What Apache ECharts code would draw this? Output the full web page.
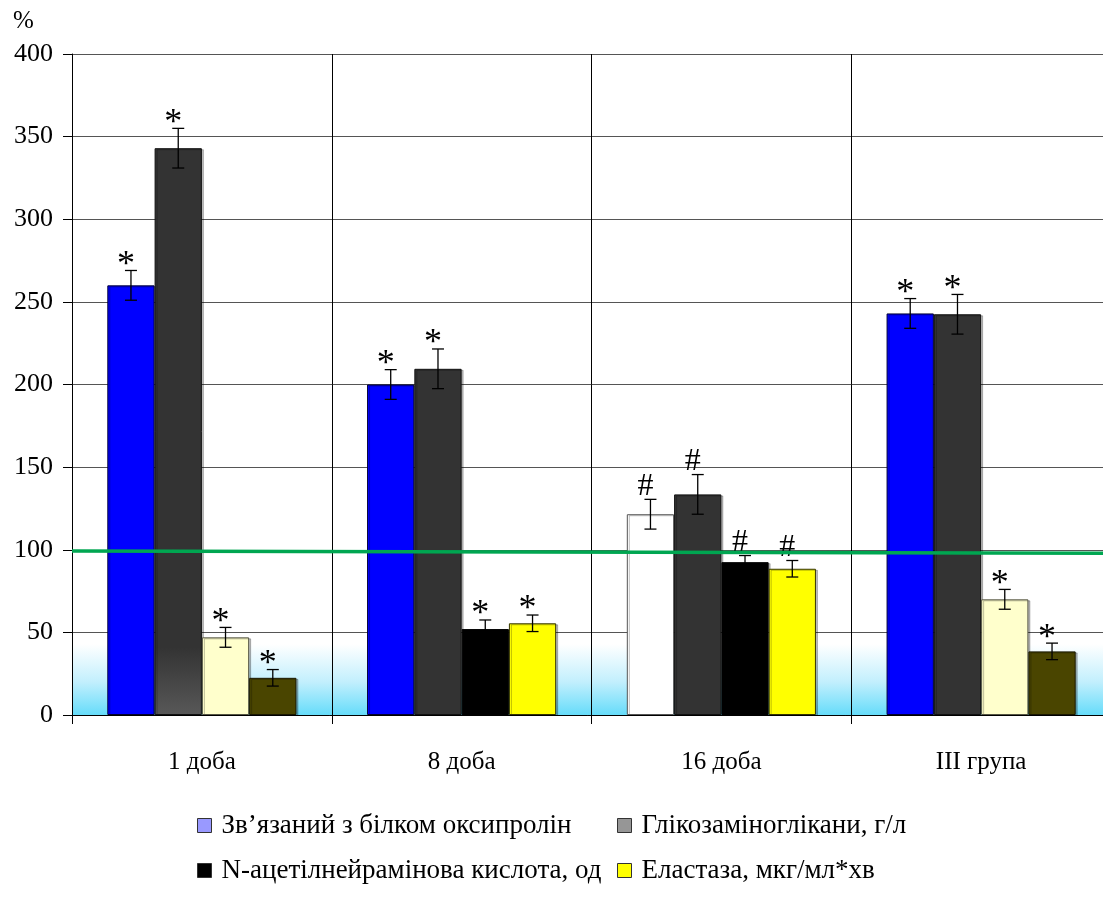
<!DOCTYPE html>
<html>
<head>
<meta charset="utf-8">
<script src="https://cdn.jsdelivr.net/npm/echarts@6/dist/echarts.min.js"></script>
<style>
  html, body { margin: 0; padding: 0; background: #fff; overflow: hidden; }
  #chart { width: 1103px; height: 898px; }
</style>
</head>
<body>
<div id="chart"></div>
<script>
// Periods of observation
const categories = ['1 доба', '8 доба', '16 доба', 'III група'];

// Indicator names (legend)
const names = [
  'Зв’язаний з білком оксипролін',
  'Глікозаміноглікани, г/л',
  'N-ацетілнейрамінова кислота, од',
  'Еластаза, мкг/мл*хв'
];

// Values, % of the control level
const oxyproline = [260, 200, 121.5, 243];
const glycosaminoglycans = [343, 209.5, 133.5, 242.5];
const neuraminic = [47, 52, 92.5, 70];
const elastase = [22.5, 55.5, 88.5, 38.5];

// Error (± deviation), %
const oxyprolineErr = [9, 9, 9, 9];
const glycosaminoglycansErr = [12, 12, 12, 12];
const neuraminicErr = [6, 5.5, 4, 6];
const elastaseErr = [5, 5, 5, 5];

// Significance marks
const oxyprolineMark = ['*', '*', '#', '*'];
const glycosaminoglycansMark = ['*', '*', '#', '*'];
const neuraminicMark = ['*', '*', '#', '*'];
const elastaseMark = ['*', '*', '#', '*'];

// Control level line (left end, right end)
const controlLevel = [99.2, 97.9];

// Y-axis ticks
const yMin = 0, yMax = 400, yStep = 50;

// Styling
const legendColors = ['#9999FF', '#969696', '#000000', '#FFFF00'];
const fillColors = [
  ['#0000FF', '#0000FF', '#FFFFFF', '#0000FF'],
  ['#333333', '#333333', '#333333', '#333333'],
  ['#FFFFCC', '#000000', '#000000', '#FFFFCC'],
  ['#4A4500', '#FFFF00', '#FFFF00', '#4A4500']
];
const borderColors = [
  ['#000033', '#000033', '#555555', '#000033'],
  ['#111111', '#111111', '#111111', '#111111'],
  ['#555544', '#000000', '#000000', '#555544'],
  ['#1a1800', '#333300', '#333300', '#1a1800']
];
// legend slots: [left, top] of each entry (two columns, two rows)
const legendSlots = [[197, 812], [617, 812], [197, 857], [617, 857]];

const values = [oxyproline, glycosaminoglycans, neuraminic, elastase];
const errors = [oxyprolineErr, glycosaminoglycansErr, neuraminicErr, elastaseErr];
const marks = [oxyprolineMark, glycosaminoglycansMark, neuraminicMark, elastaseMark];

const FONT = "Liberation Serif";
const BAR_FRAC = 0.182;

function barFill(s, c) {
  // the GAG bar of day 1 lightens towards its base
  if (s === 1 && c === 0) {
    return new echarts.graphic.LinearGradient(0, 0, 0, 1, [
      { offset: 0, color: '#333333' },
      { offset: 0.88, color: '#333333' },
      { offset: 1, color: '#585858' }
    ]);
  }
  return fillColors[s][c];
}

const barSeries = values.map((arr, s) => ({
  name: names[s],
  type: 'bar',
  barWidth: (BAR_FRAC * 100) + '%',
  barGap: '0%',
  z: 2,
  itemStyle: { color: legendColors[s], borderColor: '#000', borderWidth: 1 },
  data: arr.map((v, c) => ({
    value: v,
    itemStyle: {
      color: barFill(s, c),
      borderColor: borderColors[s][c],
      borderWidth: 1,
      shadowColor: 'rgba(0,0,0,0.25)',
      shadowOffsetX: 2,
      shadowOffsetY: 1
    }
  }))
}));

const errorSeries = values.map((arr, s) => ({
  name: 'err' + s,
  type: 'custom',
  z: 4,
  silent: true,
  data: arr.map((v, c) => [c, v, errors[s][c], c]),
  encode: { x: 0, y: 1 },
  renderItem: function (params, api) {
    const c = api.value(0);
    const v = api.value(1);
    const e = api.value(2);
    const band = api.size([1, 0])[0];
    const base = api.coord([c, v]);
    const cx = base[0] + (s - 1.5) * band * BAR_FRAC;
    const yTop = api.coord([c, v + e])[1];
    const yBot = api.coord([c, v - e])[1];
    const cap = 6;
    const st = { stroke: '#000', lineWidth: 1.3 };
    const mark = marks[s][c];
    const isHash = mark === '#';
    return {
      type: 'group',
      children: [
        { type: 'line', shape: { x1: cx, y1: yTop, x2: cx, y2: yBot }, style: st },
        { type: 'line', shape: { x1: cx - cap, y1: yTop, x2: cx + cap, y2: yTop }, style: st },
        { type: 'line', shape: { x1: cx - cap, y1: yBot, x2: cx + cap, y2: yBot }, style: st },
        {
          type: 'text',
          x: cx - 5,
          y: isHash ? yTop - 13 : yTop - 5,
          style: {
            text: mark,
            fill: '#000',
            font: (isHash ? '32px ' : '36px ') + "'Liberation Serif'",
            align: 'center',
            verticalAlign: 'middle'
          }
        }
      ]
    };
  }
}));

const legends = names.map((n, i) => ({
  data: [{ name: n, textStyle: { fontFamily: FONT, fontSize: 27, color: '#000' } }],
  left: legendSlots[i][0],
  top: legendSlots[i][1],
  orient: 'horizontal',
  itemWidth: 14,
  itemHeight: 14,
  itemGap: 0,
  icon: 'rect',
  selectedMode: false,
  padding: 0,
  itemStyle: { borderColor: '#333', borderWidth: 1 },
  textStyle: { fontFamily: FONT, fontSize: 27, color: '#000', padding: [0, 0, 0, 5] }
}));

const chart = echarts.init(document.getElementById('chart'), null, { renderer: 'canvas' });

chart.setOption({
  animation: false,
  backgroundColor: '#FFFFFF',
  textStyle: { fontFamily: FONT, color: '#000' },
  title: {
    text: '%',
    left: 8,
    top: 4,
    textStyle: { fontFamily: FONT, fontSize: 25, fontWeight: 'normal', color: '#000' }
  },
  grid: {
    left: 72,
    width: 1039,
    top: 54,
    height: 661,
    outerBoundsMode: 'none',
    containLabel: false,
    show: true,
    borderWidth: 0,
    backgroundColor: new echarts.graphic.LinearGradient(0, 0, 0, 1, [
      { offset: 0, color: '#FFFFFF' },
      { offset: 0.893, color: '#FFFFFF' },
      { offset: 0.95, color: '#C2EFFD' },
      { offset: 1, color: '#66DCFA' }
    ])
  },
  legend: legends,
  xAxis: [
    {
      type: 'category',
      data: categories,
      boundaryGap: true,
      axisLine: { show: true, lineStyle: { color: '#000', width: 1 } },
      axisTick: { show: true, length: 9, lineStyle: { color: '#000' } },
      axisLabel: { fontFamily: FONT, fontSize: 25, color: '#000', margin: 35 },
      splitLine: { show: true, lineStyle: { color: '#000', width: 1 } }
    },
    {
      type: 'value',
      min: 0,
      max: 4,
      show: false
    }
  ],
  yAxis: {
    type: 'value',
    min: yMin,
    max: yMax,
    interval: yStep,
    axisLine: { show: true, lineStyle: { color: '#000', width: 1 } },
    axisTick: { show: true, length: 9, lineStyle: { color: '#000' } },
    axisLabel: { fontFamily: FONT, fontSize: 26, color: '#000', margin: 19 },
    splitLine: { show: true, lineStyle: { color: '#555', width: 1 } }
  },
  series: [
    ...barSeries,
    ...errorSeries,
    {
      name: 'control',
      type: 'line',
      xAxisIndex: 1,
      z: 6,
      silent: true,
      symbol: 'none',
      lineStyle: { color: '#00A651', width: 3.5 },
      data: [[0, controlLevel[0]], [4, controlLevel[1]]]
    }
  ]
});
</script>
</body>
</html>
